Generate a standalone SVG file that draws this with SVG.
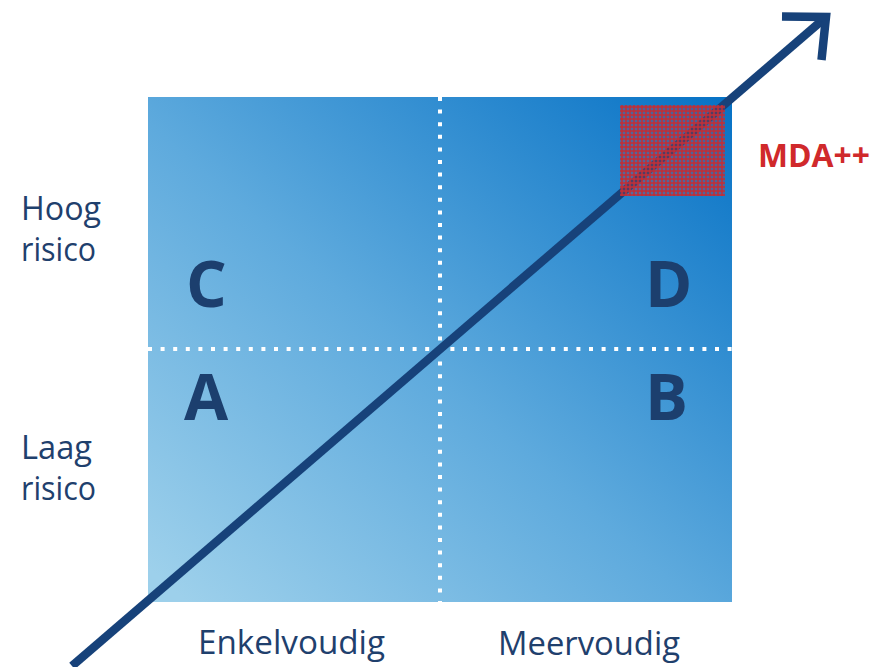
<svg xmlns="http://www.w3.org/2000/svg" width="879" height="667" viewBox="0 0 879 667">
  <defs>
    <linearGradient id="fieldGrad" gradientUnits="userSpaceOnUse" x1="230" y1="640" x2="720" y2="80">
      <stop offset="0" stop-color="#9dd0eb"/>
      <stop offset="0.45" stop-color="#5eaadd"/>
      <stop offset="1" stop-color="#0571c5"/>
    </linearGradient>
    <pattern id="redDots" patternUnits="userSpaceOnUse" x="620" y="105" width="4" height="4">
      <circle cx="2" cy="2" r="2" fill="#bd3039"/>
    </pattern>
    <style>
      .label { font-family: "Open Sans", "Noto Sans", "Liberation Sans", sans-serif; fill: #1f406d; font-size: 33px; }
      .quad { font-family: "Open Sans", "Noto Sans", "Liberation Sans", sans-serif; fill: #1c3f6e; font-size: 64px; font-weight: 700; }
      .grid { stroke: #ffffff; stroke-width: 4; stroke-dasharray: 4 8.6; fill: none; }
      .axis { stroke: #17427a; stroke-width: 8.5; fill: none; }
    </style>
  </defs>

  <!-- risk matrix field -->
  <g id="matrix">
    <rect x="148" y="97" width="584" height="505" fill="url(#fieldGrad)"/>
    <line class="grid" x1="440" y1="97" x2="440" y2="602"/>
    <line class="grid" x1="148" y1="349" x2="732" y2="349"/>
  </g>

  <!-- quadrant letters -->
  <g id="quadrant-C"><text class="quad" x="186" y="307">C</text></g>
  <g id="quadrant-D"><text class="quad" x="645" y="307">D</text></g>
  <g id="quadrant-A"><text class="quad" x="184" y="420">A</text></g>
  <g id="quadrant-B"><text class="quad" x="645" y="420">B</text></g>

  <!-- growth arrow -->
  <g id="connectors">
    <line class="axis" x1="72" y1="666" x2="826" y2="17"/>
    <polyline class="axis" stroke-linejoin="miter" stroke-miterlimit="10" points="782,16.5 826,17 821.5,60"/>
  </g>

  <!-- MDA++ zone -->
  <g id="mda-zone">
    <rect x="620" y="105" width="105" height="91" fill="url(#redDots)"/>
    <text x="758" y="167" textLength="112" lengthAdjust="spacingAndGlyphs" style="font-family: 'Open Sans', 'Noto Sans', 'Liberation Sans', sans-serif; font-weight: 700; font-size: 33px; fill: #d0292b;">MDA++</text>
  </g>

  <!-- axis labels -->
  <g id="label-high">
    <text class="label" x="21" y="220" textLength="80" lengthAdjust="spacingAndGlyphs">Hoog</text>
    <text class="label" x="21" y="261" textLength="75" lengthAdjust="spacingAndGlyphs">risico</text>
  </g>
  <g id="label-low">
    <text class="label" x="21" y="459" textLength="71" lengthAdjust="spacingAndGlyphs">Laag</text>
    <text class="label" x="21" y="500" textLength="75" lengthAdjust="spacingAndGlyphs">risico</text>
  </g>
  <g id="label-single">
    <text class="label" x="198" y="654" textLength="187" lengthAdjust="spacingAndGlyphs">Enkelvoudig</text>
  </g>
  <g id="label-multiple">
    <text class="label" x="498" y="655" textLength="182" lengthAdjust="spacingAndGlyphs">Meervoudig</text>
  </g>
</svg>
